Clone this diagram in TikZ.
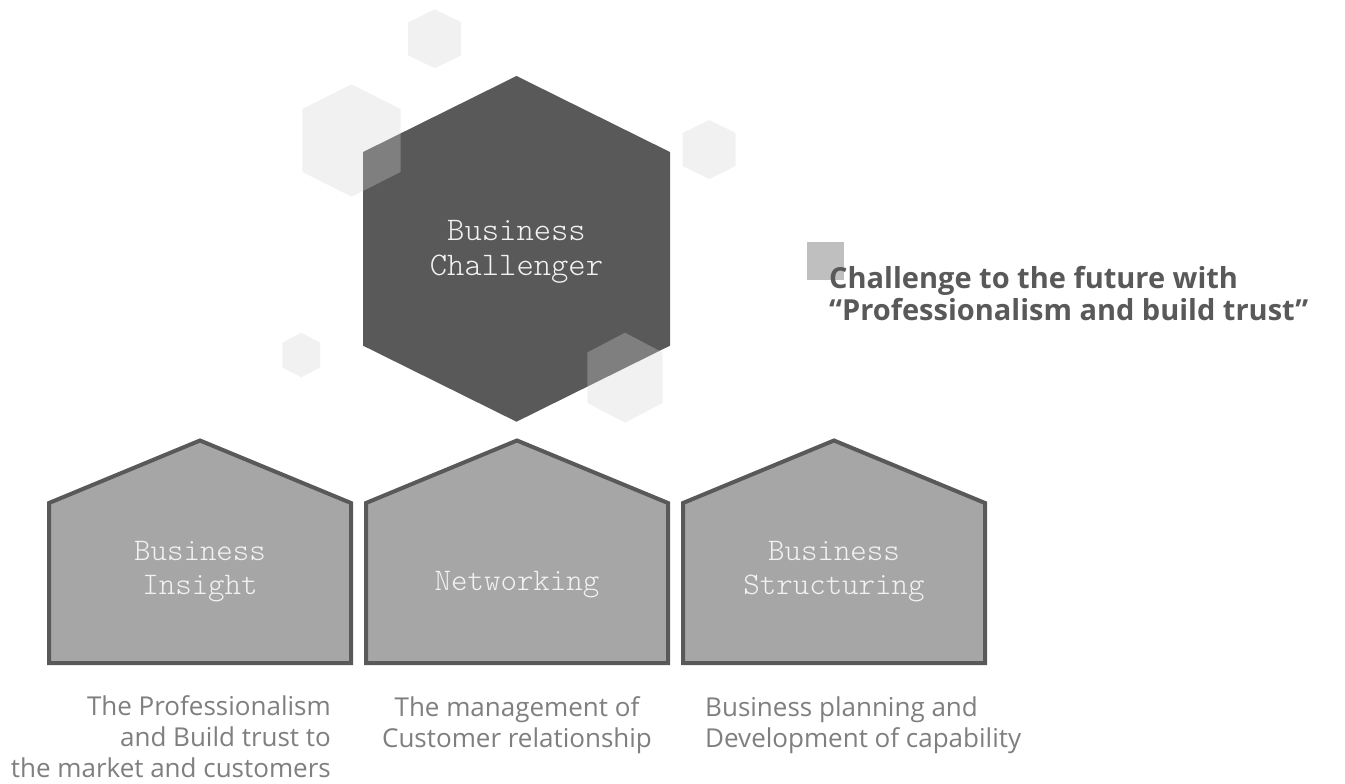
\documentclass[tikz,border=0pt]{standalone}
\usepackage{fontspec}
\setmainfont{Open Sans}
\newfontfamily\cour{lmmonolt10-regular}[Extension=.otf]
\definecolor{hexdark}{RGB}{89,89,89}
\definecolor{pentfill}{RGB}{166,166,166}
\definecolor{txtlight}{RGB}{242,242,242}
\definecolor{capgray}{RGB}{127,127,127}
\definecolor{sqgray}{RGB}{191,191,191}
\definecolor{decogray}{RGB}{213,213,213}
\tikzset{
  hexmain/.style={fill=hexdark, draw=none},
  decohex/.style={fill=decogray, fill opacity=0.31, draw=none},
  house/.style={fill=pentfill, draw=hexdark, line width=4pt, line join=miter},
  hextext/.style={font=\cour\fontsize{33}{35}\selectfont, text=txtlight, align=center, inner sep=0pt},
  celltext/.style={font=\cour\fontsize{31.4}{34}\selectfont, text=txtlight, align=center, inner sep=0pt},
  titletext/.style={font=\bfseries\fontsize{29}{32}\selectfont, text=hexdark, align=left, inner sep=0pt},
  captext/.style={font=\fontsize{26}{31}\selectfont, text=capgray, inner sep=0pt},
}
\newcommand\HexShape[5]{%
  \path[#1] ({#2},{#3-#5/2}) -- ({#2+#4/2},{#3-0.28*#5}) -- ({#2+#4/2},{#3+0.28*#5})
    -- ({#2},{#3+#5/2}) -- ({#2-#4/2},{#3+0.28*#5}) -- ({#2-#4/2},{#3-0.28*#5}) -- cycle;}
\newcommand\HouseShape[1]{%
  \path[house] ({#1-151},663) -- ({#1-151},503) -- ({#1},440.5) -- ({#1+151},503)
    -- ({#1+151},663) -- cycle;}
\begin{document}
\begin{tikzpicture}[x=1pt,y=-1pt]
\useasboundingbox (0,0) rectangle (1345,784);
\fill[white] (0,0) rectangle (1345,784);
% main hexagon
\HexShape{hexmain}{516.5}{248.85}{307}{345.7}
% decorative hexagons
\HexShape{decohex}{434.7}{38.8}{53}{59}
\HexShape{decohex}{351.5}{140.5}{98.4}{112.4}
\HexShape{decohex}{709.2}{149.5}{53}{59}
\HexShape{decohex}{301.2}{355}{37.7}{44.6}
\HexShape{decohex}{625}{377.7}{75.4}{90}
\node[hextext, anchor=base] (chal) at (516.5,275) {Business\\Challenger};
% houses
\HouseShape{200}
\HouseShape{517}
\HouseShape{834}
\node[celltext] (ins) at (200,572) {Business\\Insight};
\node[celltext] (net) at (517,585) {Networking};
\node[celltext] (str) at (834,572) {Business\\Structuring};
% title
\fill[sqgray] (807,242) rectangle (844,280);
\node[titletext, anchor=base west] (title) at (829,320.7) {Challenge to the future with\\“Professionalism and build trust”};
% captions
\node[captext, align=right, anchor=base east] (cap1) at (331,777) {The Professionalism\\and Build trust to\\the market and customers};
\node[captext, align=center, anchor=base] (cap2) at (517,747) {The management of\\Customer relationship};
\node[captext, align=left, anchor=base west] (cap3) at (705,747) {Business planning and\\Development of capability};
\end{tikzpicture}
\end{document}
